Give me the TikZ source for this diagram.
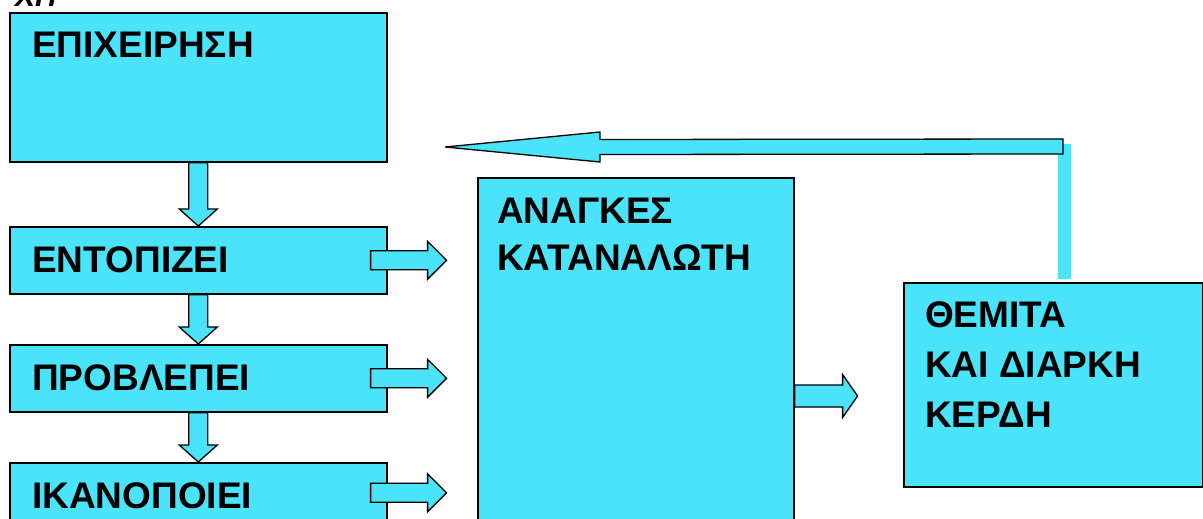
\documentclass[tikz,border=0pt]{standalone}
\usepackage{fontspec}
\setmainfont{Liberation Sans}
\usetikzlibrary{calc}
\definecolor{boxcyan}{RGB}{74,227,249}

% vertical block arrow: #1 start (shaft end), #2 tip
\newcommand\vblock[2]{%
  \draw[barrow] ($(#1)+(-9.5,0)$) -- ($(#2)+(-9.5,-17)$) -- ($(#2)+(-19,-17)$)
    -- (#2) -- ($(#2)+(19,-17)$) -- ($(#2)+(9.5,-17)$) -- ($(#1)+(9.5,0)$) -- cycle;}
% right-pointing block arrow: #1 start, #2 tip, #3 shaft half width,
% #4 head half width, #5 head length
\newcommand\hblock[5]{%
  \draw[barrow] ($(#1)+(0,-#3)$) -- ($(#2)+(-#5,-#3)$) -- ($(#2)+(-#5,-#4)$)
    -- (#2) -- ($(#2)+(-#5,#4)$) -- ($(#2)+(-#5,#3)$) -- ($(#1)+(0,#3)$) -- cycle;}
% left-pointing block arrow, same arguments
\newcommand\lblock[5]{%
  \draw[barrow] ($(#1)+(0,-#3)$) -- ($(#2)+(#5,-#3)$) -- ($(#2)+(#5,-#4)$)
    -- (#2) -- ($(#2)+(#5,#4)$) -- ($(#2)+(#5,#3)$) -- ($(#1)+(0,#3)$) -- cycle;}

\begin{document}
\begin{tikzpicture}[x=1pt,y=-1pt,
  box/.style={draw=black, line width=1.6pt, fill=boxcyan, rectangle,
    inner sep=0pt, anchor=north west},
  lbl/.style={font=\bfseries\fontsize{37}{44}\selectfont, anchor=base west,
    inner sep=0pt},
  barrow/.style={draw=black, line width=1.3pt, fill=boxcyan, line join=miter}]
\useasboundingbox (0,0) rectangle (1203,519);
\clip (0,0) rectangle (1203,519);

% heading cut by the top edge
\node[font=\bfseries\itshape\fontsize{30}{36}\selectfont, anchor=base west,
  inner sep=0pt] (head) at (15,7) {ΧΠ};

% boxes
\node[box, minimum width=377pt, minimum height=149pt] (firm)   at (9,12)  {};
\node[box, minimum width=377pt, minimum height=67pt]  (find)   at (9,226) {};
\node[box, minimum width=377pt, minimum height=67pt]  (plan)   at (9,344) {};
\node[box, minimum width=377pt, minimum height=60pt]  (meet)   at (9,462) {};
\node[box, minimum width=316pt, minimum height=380pt] (needs)  at (477,177) {};
\node[box, minimum width=299pt, minimum height=204pt] (profit) at (903,282) {};

% labels
\node[lbl] (tfirm)  at (32,58)  {ΕΠΙΧΕΙΡΗΣΗ};
\node[lbl] (tfind)  at (32,272) {ΕΝΤΟΠΙΖΕΙ};
\node[lbl] (tplan)  at (32,390) {ΠΡΟΒΛΕΠΕΙ};
\node[lbl] (tmeet)  at (32,508) {ΙΚΑΝΟΠΟΙΕΙ};
\node[lbl] (tneedsA) at (497,223) {ΑΝΑΓΚΕΣ};
\node[lbl] (tneedsB) at (497,270) {ΚΑΤΑΝΑΛΩΤΗ};
\node[lbl] (tprofA) at (925,327) {ΘΕΜΙΤΑ};
\node[lbl] (tprofB) at (925,377) {ΚΑΙ ΔΙΑΡΚΗ};
\node[lbl] (tprofC) at (925,427) {ΚΕΡΔΗ};

% downward arrows between the steps
\vblock{firm.south}{find.north}
\vblock{find.south}{plan.north}
\vblock{plan.south}{meet.north}

% arrows from the steps towards the needs
\coordinate (fs) at ($(find.east)+(-17,0)$);
\coordinate (ft) at ($(find.east)+(59,0)$);
\hblock{fs}{ft}{9.5}{19}{19}
\coordinate (ps) at ($(plan.east)+(-17,0)$);
\coordinate (pt) at ($(plan.east)+(59,0)$);
\hblock{ps}{pt}{9.5}{19}{19}
\coordinate (ms) at ($(meet.east)+(-17,0)$);
\coordinate (mt) at ($(meet.east)+(59,0)$);
\hblock{ms}{mt}{9.5}{19}{19}

% needs to profit
\coordinate (ns) at ($(needs.north east)+(0,219)$);
\coordinate (nt) at ($(needs.north east)+(63,219)$);
\hblock{ns}{nt}{11}{21.5}{15}

% feedback from profit back to the firm
\coordinate (riseB) at ($(profit.north)+(4.5,-3)$);
\coordinate (riseT) at ($(profit.north)+(17.5,-138)$);
\fill[boxcyan] (riseB) rectangle (riseT);
\coordinate (fbs) at (1063,146.5);
\coordinate (fbt) at (445,147);
\lblock{fbs}{fbt}{7.5}{15}{155}
\end{tikzpicture}
\end{document}
